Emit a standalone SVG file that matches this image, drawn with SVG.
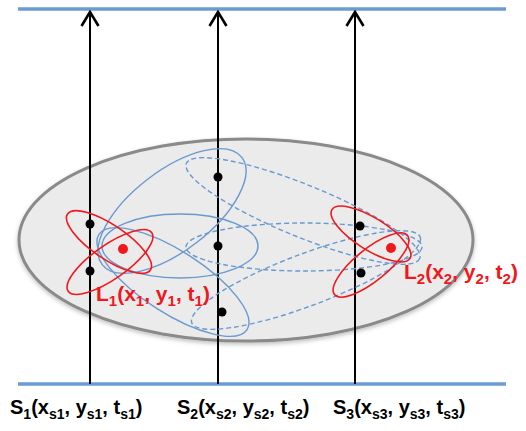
<svg xmlns="http://www.w3.org/2000/svg" width="526" height="431" viewBox="0 0 526 431">
  <style>
    .rail { stroke: #6b9bd2; stroke-width: 3.5; fill: none; }
    .arrow { stroke: #000; stroke-width: 2; fill: none; }
    .blue { stroke: #6a99cf; stroke-width: 1.4; fill: none; }
    .dash { stroke: #6a99cf; stroke-width: 1.4; fill: none; stroke-dasharray: 5 3; }
    .red { stroke: #f0181c; stroke-width: 1.6; fill: none; }
    .dot { fill: #000; }
    .rdot { fill: #f0181c; }
    .lbl { font-family: "Liberation Sans", Arial, sans-serif; font-weight: bold; font-size: 20px; }
    .lblr { fill: #f0181c; font-size: 21px; }
    .lblk { fill: #000; }
    .sub { font-size: 14px; }
    .lblr .sub { font-size: 15px; }
  </style>
  <defs>
    <marker id="ah" viewBox="0 0 20 20" refX="18" refY="10" markerWidth="20" markerHeight="20" markerUnits="userSpaceOnUse" orient="auto">
      <path d="M4,1.5 L18,10 L4,18.5" stroke="#000" stroke-width="2.6" fill="none"/>
    </marker>
    <filter id="sh" x="-10%" y="-10%" width="120%" height="130%">
      <feDropShadow dx="0" dy="2" stdDeviation="2" flood-color="#000" flood-opacity="0.25"/>
    </filter>
  </defs>

  <g id="region">
    <ellipse cx="246" cy="240" rx="227" ry="101" fill="#ebebeb" stroke="#8a8a8a" stroke-width="3" filter="url(#sh)"/>
  </g>

  <g id="rails">
    <line class="rail" x1="18" y1="9" x2="506" y2="9"/>
    <line class="rail" x1="18" y1="384" x2="506" y2="384"/>
  </g>

  <g id="connectors">
    <line class="arrow" x1="90" y1="384" x2="90" y2="12" marker-end="url(#ah)"/>
    <line class="arrow" x1="218" y1="384" x2="218" y2="12" marker-end="url(#ah)"/>
    <line class="arrow" x1="355" y1="384" x2="355" y2="12" marker-end="url(#ah)"/>
  </g>

  <g id="solid-loci">
    <ellipse class="blue" cx="172" cy="211" rx="88" ry="40" transform="rotate(-37.5 172 211)"/>
    <ellipse class="blue" cx="180" cy="246" rx="78" ry="32"/>
    <ellipse class="blue" cx="173" cy="282" rx="88" ry="31" transform="rotate(32.7 173 282)"/>
  </g>

  <g id="dashed-loci">
    <ellipse class="dash" cx="303" cy="211" rx="126" ry="26" transform="rotate(22.2 303 211)"/>
    <ellipse class="dash" cx="304" cy="247" rx="118" ry="24"/>
    <ellipse class="dash" cx="306" cy="280" rx="122" ry="26" transform="rotate(-20.6 306 280)"/>
  </g>

  <g id="L1">
    <ellipse class="red" cx="109" cy="242" rx="50" ry="17" transform="rotate(34 109 242)"/>
    <ellipse class="red" cx="110" cy="262" rx="51" ry="17" transform="rotate(-35 110 262)"/>
    <circle class="rdot" cx="123" cy="249" r="5"/>
    <text class="lbl lblr" x="96" y="301">L<tspan class="sub" dy="5">1</tspan><tspan dy="-5">(x</tspan><tspan class="sub" dy="5">1</tspan><tspan dy="-5">, y</tspan><tspan class="sub" dy="5">1</tspan><tspan dy="-5">, t</tspan><tspan class="sub" dy="5">1</tspan><tspan dy="-5">)</tspan></text>
  </g>

  <g id="L2">
    <ellipse class="red" cx="371" cy="234" rx="46" ry="16" transform="rotate(32 371 234)"/>
    <ellipse class="red" cx="371" cy="265" rx="47" ry="16" transform="rotate(-39 371 265)"/>
    <circle class="rdot" cx="391" cy="248" r="5"/>
    <text class="lbl lblr" x="404" y="279">L<tspan class="sub" dy="5">2</tspan><tspan dy="-5">(x</tspan><tspan class="sub" dy="5">2</tspan><tspan dy="-5">, y</tspan><tspan class="sub" dy="5">2</tspan><tspan dy="-5">, t</tspan><tspan class="sub" dy="5">2</tspan><tspan dy="-5">)</tspan></text>
  </g>

  <g id="S1">
    <circle class="dot" cx="90" cy="224" r="4.5"/>
    <circle class="dot" cx="90" cy="271" r="4.5"/>
    <text class="lbl lblk" x="10" y="414">S<tspan class="sub" dy="5">1</tspan><tspan dy="-5">(x</tspan><tspan class="sub" dy="5">s1</tspan><tspan dy="-5">, y</tspan><tspan class="sub" dy="5">s1</tspan><tspan dy="-5">, t</tspan><tspan class="sub" dy="5">s1</tspan><tspan dy="-5">)</tspan></text>
  </g>

  <g id="S2">
    <circle class="dot" cx="218" cy="177" r="4.5"/>
    <circle class="dot" cx="218" cy="246" r="4.5"/>
    <circle class="dot" cx="222" cy="312" r="4.5"/>
    <text class="lbl lblk" x="177" y="414">S<tspan class="sub" dy="5">2</tspan><tspan dy="-5">(x</tspan><tspan class="sub" dy="5">s2</tspan><tspan dy="-5">, y</tspan><tspan class="sub" dy="5">s2</tspan><tspan dy="-5">, t</tspan><tspan class="sub" dy="5">s2</tspan><tspan dy="-5">)</tspan></text>
  </g>

  <g id="S3">
    <circle class="dot" cx="360" cy="226" r="4.5"/>
    <circle class="dot" cx="361" cy="273" r="4.5"/>
    <text class="lbl lblk" x="333" y="414">S<tspan class="sub" dy="5">3</tspan><tspan dy="-5">(x</tspan><tspan class="sub" dy="5">s3</tspan><tspan dy="-5">, y</tspan><tspan class="sub" dy="5">s3</tspan><tspan dy="-5">, t</tspan><tspan class="sub" dy="5">s3</tspan><tspan dy="-5">)</tspan></text>
  </g>
</svg>
